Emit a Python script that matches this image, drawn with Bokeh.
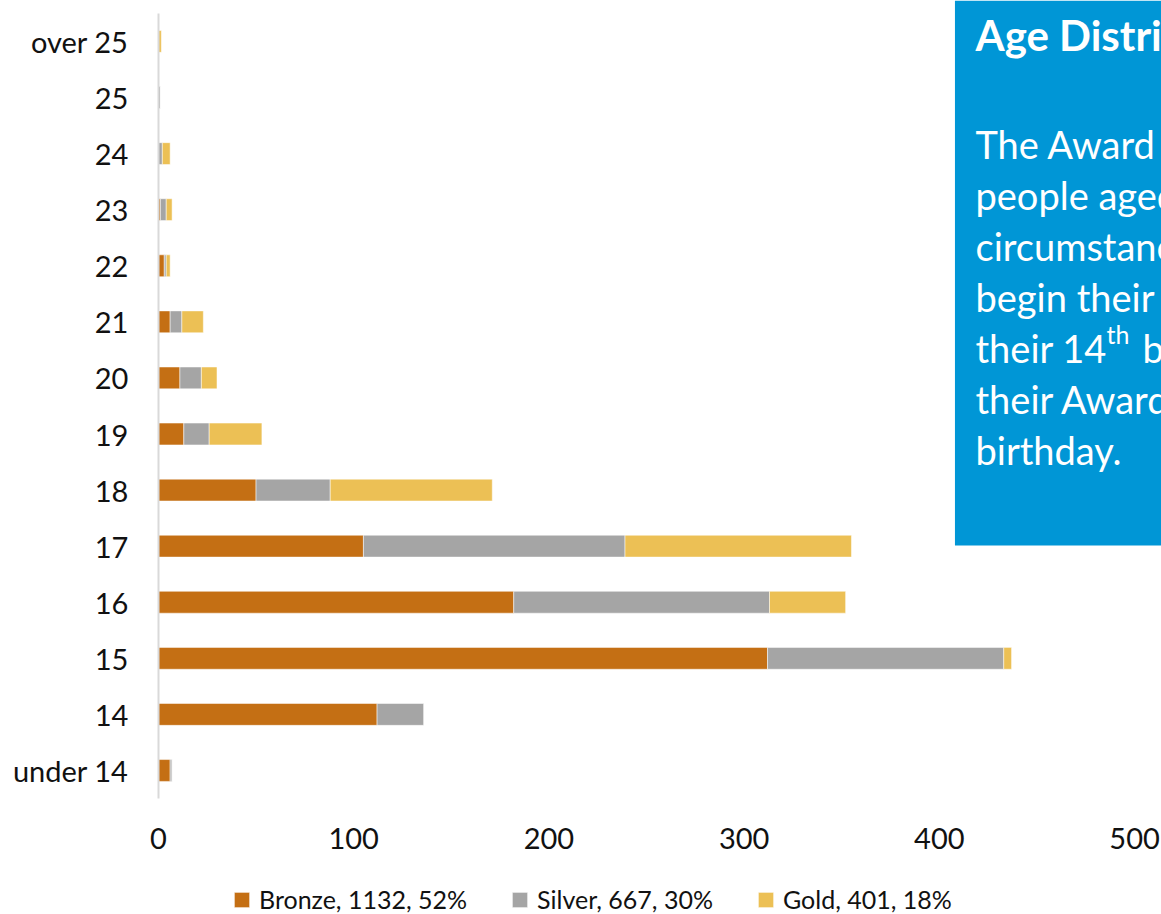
from bokeh.plotting import figure
from bokeh.models import (ColumnDataSource, Range1d, FixedTicker, Legend, LegendItem,
                          BoxAnnotation, Label)
from bokeh.embed import file_html
from bokeh.resources import INLINE

# Participants by age at start, split by Award level
categories = ["under 14", "14", "15", "16", "17", "18", "19", "20",
              "21", "22", "23", "24", "25", "over 25"]
bronze = [6, 112, 312, 182, 105, 50, 13, 11, 6, 3, 1, 0, 0, 0]
silver = [1, 24, 121, 131, 134, 38, 13, 11, 6, 1, 3, 2, 1, 0]
gold = [0, 0, 4, 39, 116, 83, 27, 8, 11, 2, 3, 4, 0, 1.5]

series_labels = ["Bronze, 1132, 52%", "Silver, 667, 30%", "Gold, 401, 18%"]
series_colors = ["#C46F14", "#A5A5A5", "#ECC055"]
x_ticks = [0, 100, 200, 300, 400, 500]

panel_title = "Age Distribution"
panel_lines = [
    "The Award is open to all young",
    "people aged 14-24, whatever their",
    "circumstances. Participants can",
    "begin their Award in the year of",
    None,  # line with superscript, drawn in parts below
    "their Award before their 25th",
    "birthday.",
]
sup_line = ("their 14", "th", "birthday and must complete")

FONT = "Lato"
TEXT = "#111111"

positions = list(range(len(categories)))
source = ColumnDataSource(dict(pos=positions, bronze=bronze, silver=silver, gold=gold))

# the plot frame fills the whole canvas; both axes sit at fixed data
# locations (x = 0 and the bottom of the category band, y = -0.5)
p = figure(width=1161, height=914, output_backend="svg", toolbar_location=None,
           x_range=Range1d(-80.9, 513.8), y_range=Range1d(-2.568, 13.73),
           min_border_left=0, min_border_right=0, min_border_top=0,
           min_border_bottom=0)
p.outline_line_color = None
p.background_fill_color = "white"
p.border_fill_color = "white"
p.xgrid.visible = False
p.ygrid.visible = False

renderers = p.hbar_stack(["bronze", "silver", "gold"], y="pos", height=0.39,
                         color=series_colors, line_color="white", line_alpha=0.5,
                         line_width=1, source=source)

# axes
xa = p.xaxis[0]
xa.fixed_location = -0.5
xa.ticker = FixedTicker(ticks=x_ticks)
xa.axis_line_color = None
xa.major_tick_line_color = None
xa.minor_tick_line_color = None
xa.major_label_standoff = 23
xa.major_label_text_font = FONT
xa.major_label_text_font_size = "29px"
xa.major_label_text_color = TEXT

ya = p.yaxis[0]
ya.fixed_location = 0
ya.ticker = FixedTicker(ticks=positions)
ya.major_label_overrides = {i: c for i, c in enumerate(categories)}
ya.bounds = (-0.5, 13.5)
ya.axis_line_color = "#D9D9D9"
ya.axis_line_width = 2
ya.major_tick_line_color = None
ya.minor_tick_line_color = None
ya.major_tick_out = 0
ya.major_tick_in = 0
ya.major_label_standoff = 30
ya.major_label_text_font = FONT
ya.major_label_text_font_size = "29px"
ya.major_label_text_color = TEXT

# legend under the value labels
legend = Legend(items=[LegendItem(label=lab, renderers=[r])
                       for lab, r in zip(series_labels, renderers)],
                orientation="horizontal", location=(232, 0),
                glyph_width=19, glyph_height=19, label_standoff=8, spacing=43,
                padding=0, margin=0, border_line_alpha=0, background_fill_alpha=0,
                label_text_font=FONT, label_text_font_size="25px",
                label_text_color=TEXT)
p.add_layout(legend)

# blue text panel
p.add_layout(BoxAnnotation(left=408, bottom=4.01, fill_color="#0096D6",
                           fill_alpha=1.0, line_alpha=0))

BASE_REF = 914 + 16
TX = 975
BODY = "38px"
p.add_layout(Label(x=TX, y=BASE_REF - 50, x_units="screen", y_units="screen",
                   text=panel_title, text_font=FONT, text_font_style="bold",
                   text_font_size="42px", text_color="white",
                   text_baseline="alphabetic"))
line_h = 51
for i, line in enumerate(panel_lines):
    base = 159 + i * line_h
    if line is None:
        a, sup, b = sup_line
        p.add_layout(Label(x=TX, y=BASE_REF - base, x_units="screen", y_units="screen",
                           text=a, text_font=FONT, text_font_size=BODY,
                           text_color="white", text_baseline="alphabetic"))
        p.add_layout(Label(x=1106, y=BASE_REF - base + 14, x_units="screen",
                           y_units="screen", text=sup, text_font=FONT,
                           text_font_size="25px", text_color="white",
                           text_baseline="alphabetic"))
        p.add_layout(Label(x=1142, y=BASE_REF - base, x_units="screen",
                           y_units="screen", text=b, text_font=FONT,
                           text_font_size=BODY, text_color="white",
                           text_baseline="alphabetic"))
        continue
    p.add_layout(Label(x=TX, y=BASE_REF - base, x_units="screen", y_units="screen",
                       text=line, text_font=FONT, text_font_size=BODY,
                       text_color="white", text_baseline="alphabetic"))

with open("out.html", "w") as f:
    f.write(file_html(p, INLINE))
